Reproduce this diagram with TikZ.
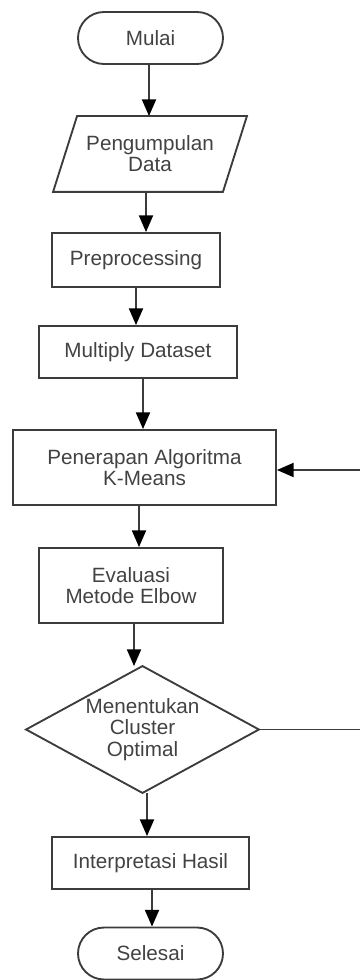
\documentclass[tikz,border=0pt]{standalone}
\usepackage{fontspec}
\setmainfont{Liberation Sans}
\usetikzlibrary{arrows.meta,calc}
\definecolor{linec}{HTML}{3C3C3C}
\definecolor{textc}{HTML}{424242}
\begin{document}
\begin{tikzpicture}[x=0.75pt,y=-0.75pt,
  base/.style={line width=1.4pt,draw=linec,text=textc,align=center,inner sep=0pt,
    font=\fontsize{15.5pt}{15.9pt}\selectfont},
  procbox/.style={base,rectangle},
  termbox/.style={base,rectangle,rounded corners=19.5pt},
  ghost/.style={base,rectangle,draw=none},
  arr/.style={line width=1.4pt,draw=linec,-{Triangle[length=12.5pt,width=10.5pt,fill=black,color=black]}},
  plain/.style={line width=1.4pt,draw=linec}]
\useasboundingbox (0,0) rectangle (360,980);

\node[termbox,minimum width=108.75pt,minimum height=39pt] (mulai) at (150.5,38) {Mulai};
\node[ghost,minimum width=144pt,minimum height=55.5pt] (pd) at (150,154) {Pengumpulan\\Data};
\draw[plain] ([xshift=18pt]pd.north west) -- (pd.north east) -- ([xshift=-18pt]pd.south east) -- (pd.south west) -- cycle;
\node[procbox,minimum width=126pt,minimum height=40.5pt] (prep) at (136,260) {Preprocessing};
\node[procbox,minimum width=148.5pt,minimum height=39pt] (mult) at (138,352) {Multiply Dataset};
\node[procbox,minimum width=197.25pt,minimum height=56.25pt] (pen) at (144.5,467.5) {Penerapan Algoritma\\K-Means};
\node[procbox,minimum width=138pt,minimum height=56.25pt] (eval) at (131,585.5) {Evaluasi\\Metode Elbow};
\node[ghost,minimum width=173.25pt,minimum height=93.75pt] (dec) at (142.5,729.5) {Menentukan\\Cluster\\Optimal};
\draw[plain] (dec.north) -- (dec.east) -- (dec.south) -- (dec.west) -- cycle;
\node[procbox,minimum width=147.75pt,minimum height=39pt] (interp) at (150.5,863) {Interpretasi Hasil};
\node[termbox,minimum width=108.75pt,minimum height=39pt] (selesai) at (150.5,953.5) {Selesai};

\coordinate (x1) at (149,0);
\coordinate (x2) at (146,0);
\coordinate (x3) at (136,0);
\coordinate (x4) at (143,0);
\coordinate (x5) at (139,0);
\coordinate (x6) at (134,0);
\coordinate (x7) at (147,0);
\coordinate (x8) at (152,0);
\draw[arr] (mulai.south -| x1) -- (pd.north -| x1);
\draw[arr] (pd.south -| x2) -- (prep.north -| x2);
\draw[arr] (prep.south -| x3) -- (mult.north -| x3);
\draw[arr] (mult.south -| x4) -- (pen.north -| x4);
\draw[arr] (pen.south -| x5) -- (eval.north -| x5);
\draw[arr] (eval.south -| x6) -- (dec.north -| x6);
\draw[arr] (dec.south -| x7) -- (interp.north -| x7);
\draw[arr] (interp.south -| x8) -- (selesai.north -| x8);

\coordinate (edgeA) at (360,729.5);
\coordinate (edgeB) at (360,470);
\draw[plain] (dec.east) -- (edgeA);
\draw[arr] (edgeB) -- (pen.east |- edgeB);
\end{tikzpicture}
\end{document}
